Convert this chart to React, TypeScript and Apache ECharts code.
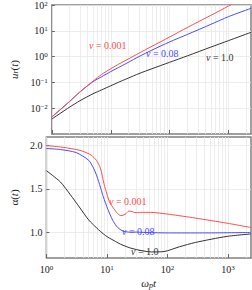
import React, { useEffect, useRef } from 'react';
import * as echarts from 'echarts';

const FONT = 'Liberation Serif';
const RED = '#ff4d4d';
const BLUE = '#4a4aff';
const BLACK = '#333333';

// top panel: u_r(t)
const tTop = [1, 2, 3, 5, 7, 10, 15, 20, 30, 50, 100, 200, 500, 1000, 2400];
const urNu0001 = [0.00457, 0.0182, 0.0427, 0.112, 0.204, 0.339, 0.575, 0.813, 1.35, 2.51, 5.75, 13.5, 39.8, 91.2, 263];
const urNu008 = [0.00457, 0.0182, 0.0427, 0.107, 0.166, 0.263, 0.427, 0.603, 1.0, 1.78, 3.72, 7.24, 17.8, 35.5, 74.1];
const urNu1 = [0.0038, 0.011, 0.0195, 0.0363, 0.0513, 0.0741, 0.112, 0.148, 0.219, 0.339, 0.603, 1.07, 2.34, 4.17, 8.71];

// bottom panel: alpha(t)
const tAlphaNu0001 = [1, 1.7, 3, 4, 5.5, 6.7, 7.8, 9, 10, 11, 13, 15, 17, 20, 23, 26, 29, 36, 52, 108, 290, 960, 2400];
const alphaNu0001 = [2.0, 1.985, 1.957, 1.935, 1.89, 1.83, 1.74, 1.55, 1.44, 1.35, 1.27, 1.215, 1.19, 1.205, 1.242, 1.238, 1.225, 1.228, 1.228, 1.205, 1.162, 1.103, 1.053];
const tAlphaNu008 = [1, 1.7, 3.1, 5, 6, 6.8, 7.8, 8.7, 10.4, 12.4, 14.3, 16.5, 19, 23, 28, 44, 108, 380, 2400];
const alphaNu008 = [1.967, 1.955, 1.92, 1.83, 1.74, 1.65, 1.52, 1.41, 1.26, 1.14, 1.07, 1.03, 1.008, 1.0, 1.0, 0.995, 0.99, 0.99, 0.995];
const tAlphaNu1 = [1, 1.7, 2.5, 3.5, 5, 7.2, 8.7, 10.4, 14, 16.7, 26, 54, 88, 158, 290, 960, 2400];
const alphaNu1 = [1.71, 1.58, 1.43, 1.29, 1.14, 1.03, 0.98, 0.94, 0.89, 0.86, 0.81, 0.77, 0.775, 0.83, 0.88, 0.95, 0.978];

// ticks
const xMajor = [1, 10, 100, 1000];
const xMin = 1;
const xMax = 2400;
const yTopTicks = [0.01, 0.1, 1, 10, 100];
const yBottomTicks = [1.0, 1.5, 2.0];

const xMinor: number[] = [];
xMajor.forEach((d) => {
  for (let m = 1; m <= 9; m++) {
    const v = m * d;
    if (v <= xMax) xMinor.push(v);
  }
});

const pairs = (xs: number[], ys: number[]) => xs.map((x, i) => [x, ys[i]]);

const supRich = {
  b: { fontSize: 10, fontFamily: FONT, color: '#222' },
  s: { fontSize: 7, fontFamily: FONT, color: '#222', verticalAlign: 'top' as const, lineHeight: 8 },
};
const powFmt = (v: number) => {
  const e = Math.round(Math.log10(v));
  return `{b|10}{s|${e < 0 ? '\u2212' + -e : e}}`;
};

const nameRich = {
  i: { fontSize: 11, fontFamily: FONT, fontStyle: 'italic' as const, color: '#222' },
  n: { fontSize: 11, fontFamily: FONT, color: '#222' },
  s: { fontSize: 8, fontFamily: FONT, fontStyle: 'italic' as const, color: '#222', verticalAlign: 'bottom' as const, padding: [4, 0, 0, 0] },
};

const gridLine = { show: true, lineStyle: { color: '#e8e8e8', width: 0.8 } };

const labelText = (x: number, y: number, txt: string, color: string) => ({
  type: 'text',
  x,
  y,
  z: 100,
  style: {
    text: `{i|\u03bd}{n| = ${txt}}`,
    fill: color,
    fontSize: 10,
    fontFamily: FONT,
    verticalAlign: 'middle',
    rich: {
      i: { fontStyle: 'italic', fontSize: 10, fontFamily: FONT, fill: color },
      n: { fontSize: 10, fontFamily: FONT, fill: color },
    },
  },
});

export default function App() {
  const ref = useRef<HTMLDivElement>(null);
  useEffect(() => {
    if (!ref.current) return;
    const chart = echarts.init(ref.current, undefined, { renderer: 'svg' });
    const gridBox = { show: true, borderColor: '#808080', borderWidth: 1.5, backgroundColor: 'transparent' };
    const lineSeries = (name: string, data: number[][], color: string, xi: number, yi: number) => ({
      type: 'line',
      name,
      data,
      xAxisIndex: xi,
      yAxisIndex: yi,
      showSymbol: false,
      symbol: 'none',
      smooth: 0.25,
      clip: true,
      lineStyle: { color, width: 1 },
      z: 5,
    });
    const gridXAxis = (gi: number) => ({
      type: 'log',
      gridIndex: gi,
      min: xMin,
      max: xMax,
      position: 'bottom',
      axisLine: { show: false },
      axisTick: { show: false, customValues: xMinor },
      axisLabel: { show: false },
      splitLine: gridLine,
    });
    const tickXAxis = (gi: number, labels: boolean) => ({
      type: 'log',
      gridIndex: gi,
      min: xMin,
      max: xMax,
      position: 'bottom',
      axisLine: { show: false },
      axisTick: { show: true, inside: true, length: 4, lineStyle: { color: '#666', width: 1 }, customValues: xMajor },
      axisLabel: labels
        ? { show: true, customValues: xMajor, formatter: powFmt, rich: supRich, margin: 6 }
        : { show: false },
      splitLine: { show: false },
      name: labels ? '{i|\u03c9}{s|p}{i|t}' : '',
      nameLocation: 'middle',
      nameGap: 19,
      nameTextStyle: { rich: nameRich, fontFamily: FONT },
    });
    chart.setOption({
      animation: false,
      backgroundColor: '#ffffff',
      textStyle: { fontFamily: FONT },
      grid: [
        { left: 35, top: 5, width: 216, height: 129, ...gridBox },
        { left: 35, top: 137, width: 216, height: 128, ...gridBox },
      ],
      xAxis: [gridXAxis(0), tickXAxis(0, false), gridXAxis(1), tickXAxis(1, true)],
      yAxis: [
        {
          type: 'log',
          gridIndex: 0,
          min: 0.001,
          max: 100,
          axisLine: { show: false },
          axisTick: { show: true, inside: true, length: 3, lineStyle: { color: '#666' }, customValues: yTopTicks },
          axisLabel: { customValues: yTopTicks, formatter: powFmt, rich: supRich, margin: 4 },
          splitLine: gridLine,
          name: '{i|u}{s|r}{n|(}{i|t}{n|)}',
          nameLocation: 'middle',
          nameRotate: 90,
          nameGap: 22,
          nameTextStyle: { rich: nameRich, fontFamily: FONT },
        },
        {
          type: 'value',
          gridIndex: 1,
          min: 0.7,
          max: 2.1,
          axisLine: { show: false },
          axisTick: { show: true, inside: true, length: 3, lineStyle: { color: '#666' }, customValues: yBottomTicks },
          axisLabel: {
            customValues: yBottomTicks,
            formatter: (v: number) => v.toFixed(1),
            fontSize: 10,
            fontFamily: FONT,
            color: '#222',
            margin: 4,
          },
          splitLine: gridLine,
          name: '{n|\u03b1(}{i|t}{n|)}',
          nameLocation: 'middle',
          nameRotate: 90,
          nameGap: 20,
          nameTextStyle: { rich: nameRich, fontFamily: FONT },
        },
      ],
      series: [
        lineSeries('nu1', pairs(tTop, urNu1), BLACK, 0, 0),
        lineSeries('nu008', pairs(tTop, urNu008), BLUE, 0, 0),
        lineSeries('nu0001', pairs(tTop, urNu0001), RED, 0, 0),
        lineSeries('a1', pairs(tAlphaNu1, alphaNu1), BLACK, 2, 1),
        lineSeries('a008', pairs(tAlphaNu008, alphaNu008), BLUE, 2, 1),
        lineSeries('a0001', pairs(tAlphaNu0001, alphaNu0001), RED, 2, 1),
      ],
      graphic: [
        labelText(89, 45, '0.001', RED),
        labelText(146, 53, '0.08', BLUE),
        labelText(206, 57, '1.0', BLACK),
        labelText(109, 201, '0.001', RED),
        labelText(122, 231.5, '0.08', BLUE),
        labelText(131, 251.5, '1.0', BLACK),
      ],
    });
    return () => chart.dispose();
  }, []);
  return (
    <div
      ref={ref}
      style={{ position: 'fixed', left: 0, top: 0, width: 252, height: 290, background: '#fff' }}
    />
  );
}
